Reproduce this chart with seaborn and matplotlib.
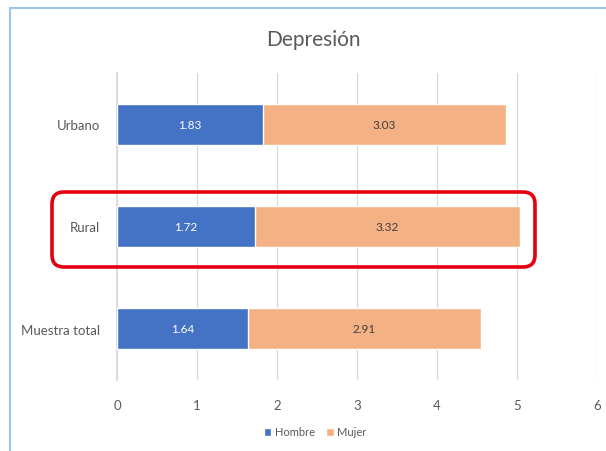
import matplotlib
matplotlib.use("Agg")
import matplotlib.pyplot as plt
import matplotlib.transforms as mtransforms
from matplotlib.patches import FancyBboxPatch, Patch
from matplotlib.lines import Line2D
import seaborn as sns
import pandas as pd

categories = ["Urbano", "Rural", "Muestra total"]
hombre = [1.83, 1.72, 1.64]
mujer = [3.03, 3.32, 2.91]
x_ticks = [0, 1, 2, 3, 4, 5, 6]

BLUE = "#4472C4"
ORANGE = "#F4B183"
TEXT = "#595959"

sns.set_theme(style="white")
plt.rcParams["font.family"] = ["Lato", "DejaVu Sans"]

df = pd.DataFrame({"cat": categories, "Hombre": hombre, "Mujer": mujer})
df["total"] = df["Hombre"] + df["Mujer"]

fig = plt.figure(figsize=(6.06, 4.52), dpi=100)
ax = fig.add_axes([117 / 606, 1 - 381 / 452, 480 / 606, 307 / 452])

# stacked bars: full total in orange, Hombre part drawn over it in blue
sns.barplot(data=df, y="cat", x="total", color=ORANGE, saturation=1,
            width=0.4, orient="h", ax=ax, zorder=3)
sns.barplot(data=df, y="cat", x="Hombre", color=BLUE, saturation=1,
            width=0.4, orient="h", ax=ax, zorder=4)

for i, (h, m) in enumerate(zip(hombre, mujer)):
    ax.text(h / 2, i, f"{h:.2f}", ha="center", va="center", color="white",
            fontsize=8.5, zorder=5)
    ax.text(h + m / 2, i, f"{m:.2f}", ha="center", va="center", color="#404040",
            fontsize=8.5, zorder=5)

ax.set_xlim(0, 6)
ax.set_xticks(x_ticks)
ax.set_xticklabels([str(t) for t in x_ticks])
ax.set_ylim(2.5, -0.5)
ax.set_xlabel("")
ax.set_ylabel("")
ax.grid(axis="x", color="#D9D9D9", linewidth=0.9, zorder=0)
ax.set_axisbelow(True)
for s in ["top", "right", "bottom"]:
    ax.spines[s].set_visible(False)
ax.spines["left"].set_color("#D9D9D9")
ax.tick_params(axis="both", length=0, colors=TEXT, labelsize=9.5)
ax.tick_params(axis="x", pad=14)
ax.tick_params(axis="y", pad=12)

fig.text(313 / 606, 1 - 40 / 452, "Depresión", ha="center", va="center",
         fontsize=15, color=TEXT)

handles = [Patch(facecolor=BLUE, label="Hombre"), Patch(facecolor=ORANGE, label="Mujer")]
fig.legend(handles=handles, loc="center", bbox_to_anchor=(315 / 606, 1 - 433 / 452),
           ncol=2, frameon=False, fontsize=8, handlelength=0.7, handleheight=0.7,
           handletextpad=0.3, columnspacing=1.0, labelcolor=TEXT)

# chart frame (light blue) along the top and left edges
frame_color = "#9DC3E6"
fig.add_artist(Line2D([10, 606], [452 - 9, 452 - 9], color=frame_color, linewidth=1.5,
                      transform=mtransforms.IdentityTransform()))
fig.add_artist(Line2D([10, 10], [0, 452 - 9], color=frame_color, linewidth=1.5,
                      transform=mtransforms.IdentityTransform()))

# red rounded highlight around the Rural row
box = FancyBboxPatch((52, 452 - 268), 483, 75,
                     boxstyle="round,pad=0,rounding_size=12",
                     linewidth=2.6, edgecolor="#E3000F", facecolor="none",
                     transform=mtransforms.IdentityTransform(), zorder=10)
fig.add_artist(box)

fig.savefig("out.png", dpi=100)
